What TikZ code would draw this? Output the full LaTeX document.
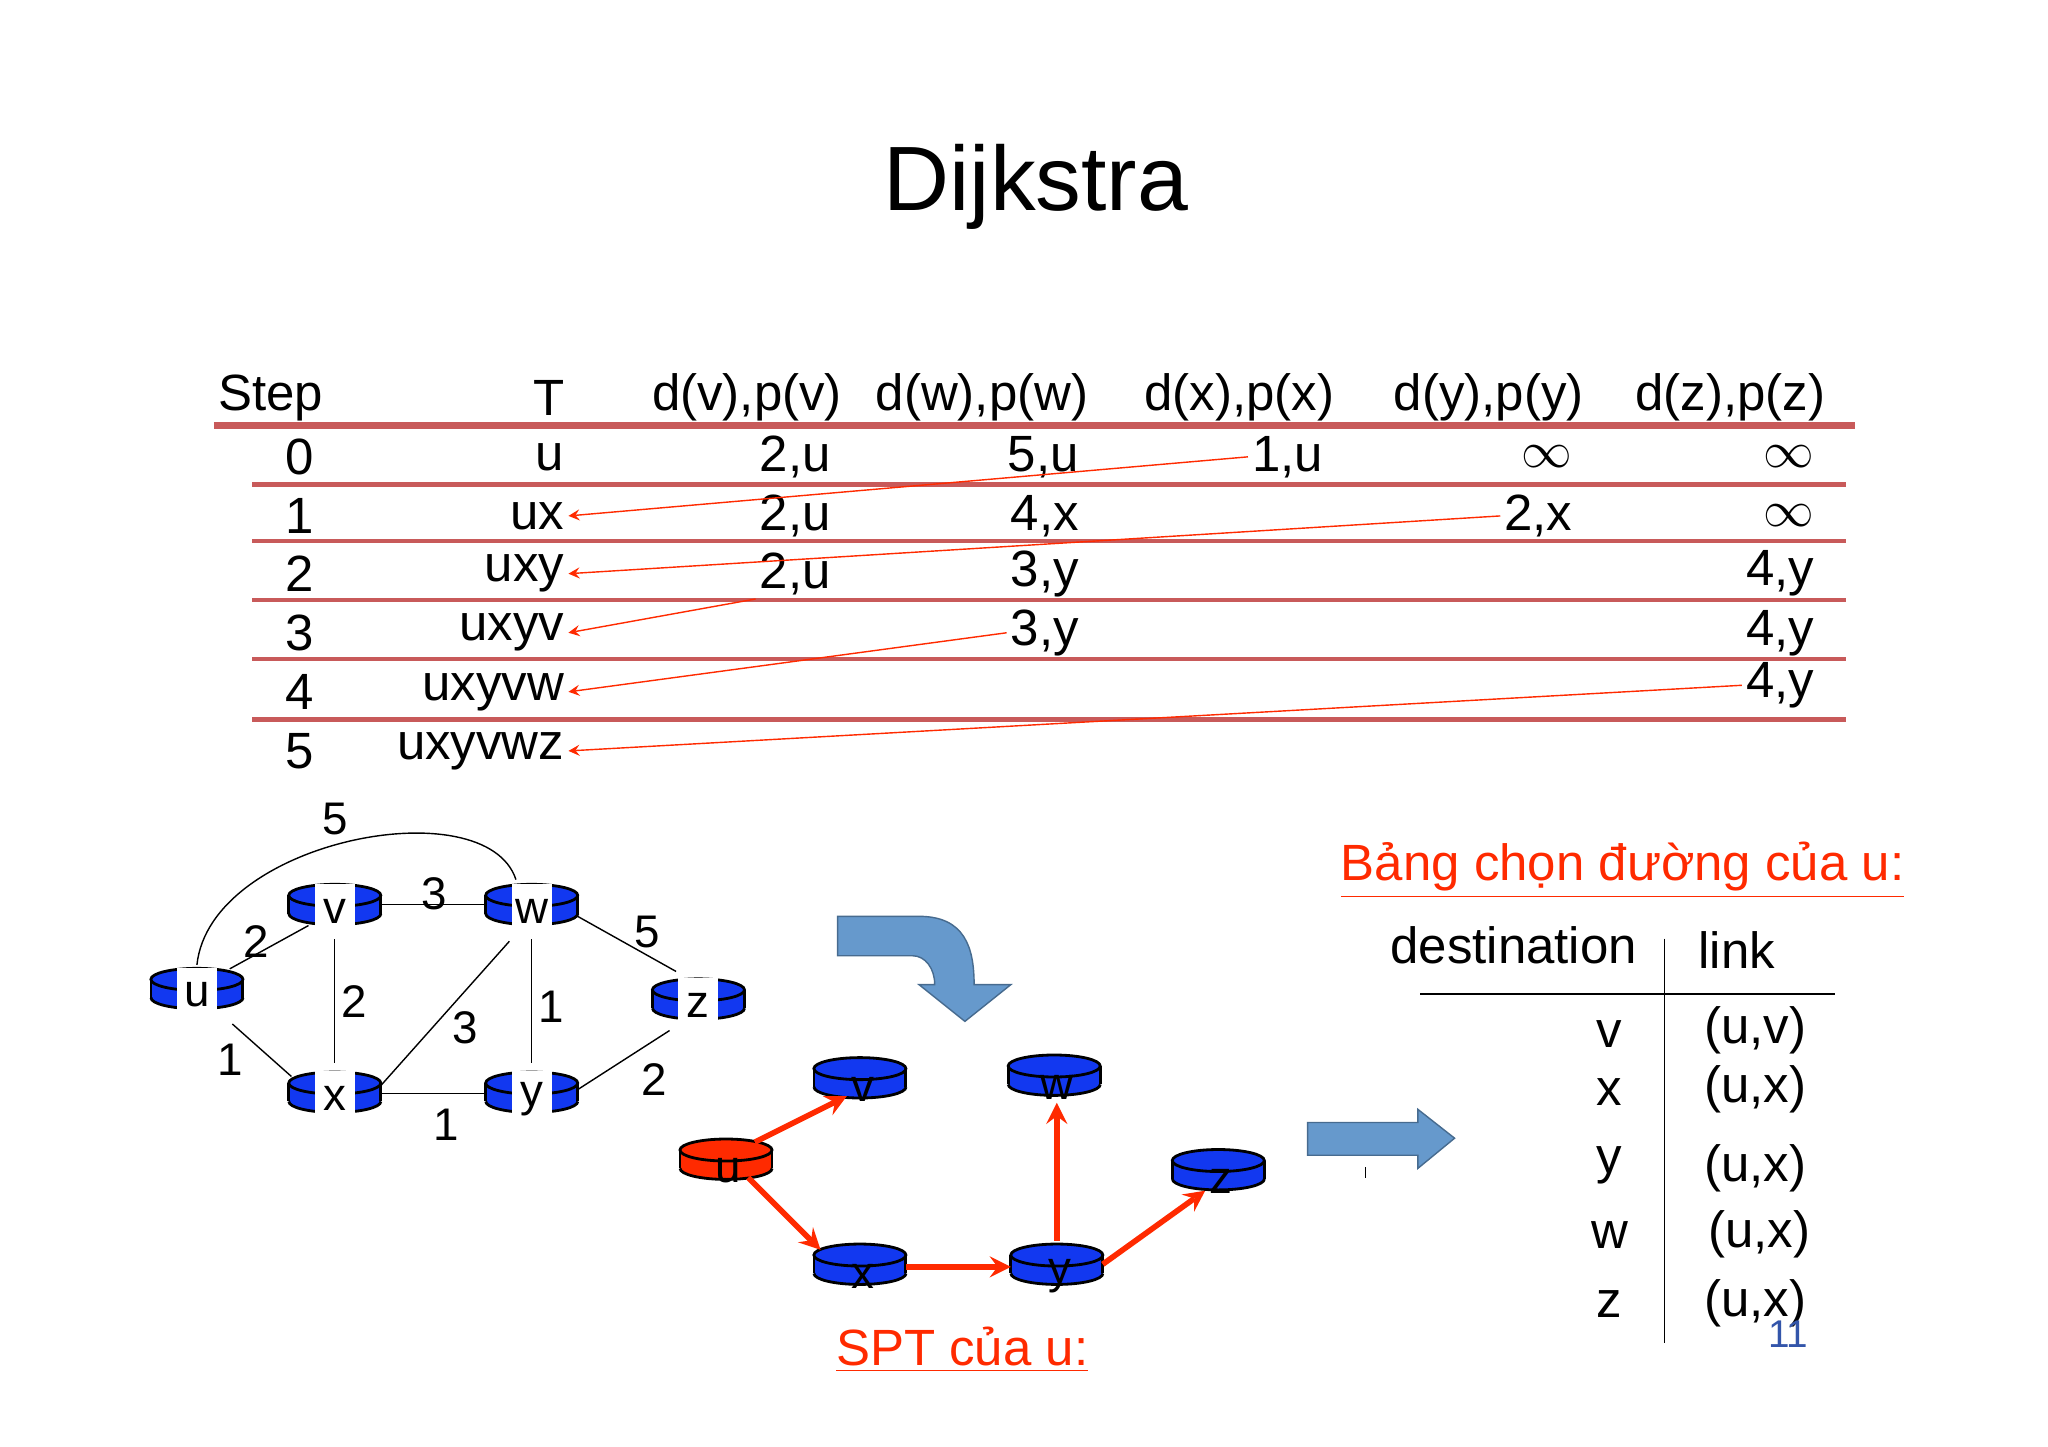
\documentclass[tikz,border=0pt]{standalone}
\usepackage{fontspec}
\setmainfont{Liberation Sans}
\usepackage{tikz}
\definecolor{rtblue}{HTML}{1238F0}
\definecolor{rtred}{HTML}{FF2A00}
\definecolor{rowline}{HTML}{C85A5A}
\definecolor{blockblue}{HTML}{6699CC}
\definecolor{pagenum}{HTML}{3355AA}
% cylinder router: #1 = position, #2 = fill colour
\newcommand{\router}[2]{
  \fill[#2] ($(#1)+(0,8)$) ellipse (0.46cm and 0.11cm);
  \fill[#2] ($(#1)+(-35,-6)$) rectangle ($(#1)+(35,8)$);
  \draw[thick] ($(#1)+(-35,-6)$) -- ($(#1)+(-35,8)$);
  \draw[thick] ($(#1)+(35,-6)$) -- ($(#1)+(35,8)$);
  \draw[thick] ($(#1)+(-35,8)$) arc (180:360:0.46cm and 0.11cm);
  \filldraw[fill=#2,thick] ($(#1)+(0,-6)$) ellipse (0.46cm and 0.11cm);
}
\usetikzlibrary{calc}
\tikzset{
  tab/.style={font=\fontsize{14.5}{17}\selectfont,inner sep=1pt},
  val/.style={tab,anchor=east},
  glab/.style={font=\fontsize{13}{15}\selectfont,inner sep=1pt},
  rlab/.style={glab,fill=white,minimum width=0.4cm,minimum height=0.55cm,inner sep=0pt},
  ptr/.style={rtred,->,>=stealth},
  spt/.style={rtred,line width=1.6pt,->,>=stealth},
  hline/.style={rowline,line width=1.2pt}
}
\begin{document}
\begin{tikzpicture}[x=0.013128cm,y=-0.013128cm]
  \useasboundingbox (0,0) rectangle (1560,1102);
  \node[font=\fontsize{26}{30}\selectfont] (title) at (789,142) {Dijkstra};

  % table head
  \node[tab,anchor=west] (hs) at (163,303) {Step};
  \node[val] (ht) at (433,303) {T};
  \node[tab] (hv) at (569,303) {d(v),p(v)};
  \node[tab] (hw) at (748,303) {d(w),p(w)};
  \node[tab] (hx) at (944,303) {d(x),p(x)};
  \node[tab] (hy) at (1134,303) {d(y),p(y)};
  \node[tab] (hz) at (1318,303) {d(z),p(z)};
  \draw[hline,line width=2pt] (163,324) -- (1413,324);
  \foreach \y in {369,412,457,502,548}
  {
    \draw[hline] (192,\y) -- (1406,\y);
  };

  % steps and sets
  \foreach \i/\t/\y in {0/u/348,1/ux/393,2/uxy/437,3/uxyv/482,4/uxyvw/527,5/uxyvwz/572}
  {
    \node[tab] (s\i) at (228,\y) {\i};
    \node[val] (t\i) at (433,\y) {\t};
  };

  % values
  \node[val] (v0) at (636,348) {2,u};
  \node[val] (w0) at (825,348) {5,u};
  \node[val] (x0) at (1011,348) {1,u};
  \node[val] (y0) at (1201,348) {$\infty$};
  \node[val] (z0) at (1385,348) {$\infty$};
  \node[val] (v1) at (636,393) {2,u};
  \node[val] (w1) at (825,393) {4,x};
  \node[val] (y1) at (1201,393) {2,x};
  \node[val] (z1) at (1385,393) {$\infty$};
  \node[val] (v2) at (636,437) {2,u};
  \node[val] (w2) at (825,437) {3,y};
  \node[val] (z2) at (1385,437) {4,y};
  \node[val] (w3) at (825,482) {3,y};
  \node[val] (z3) at (1385,482) {4,y};
  \node[val] (z4) at (1385,522) {4,y};

  \draw[ptr] (x0.west) -- (t1.east);
  \draw[ptr] (y1.west) -- (t2.east);
  \draw[ptr] (v2.south west) -- (t3.east);
  \draw[ptr] (w3.west) -- (t4.east);
  \draw[ptr] (z4.west) -- (t5.east);

  % network
  \coordinate (u) at (150,752);
  \coordinate (v) at (255,688);
  \coordinate (w) at (405,688);
  \coordinate (x) at (255,831);
  \coordinate (y) at (405,831);
  \coordinate (z) at (532,760);
  \draw (175,738) -- (235,705);
  \draw (290,689) -- (370,689);
  \draw (440,698) -- (515,740);
  \draw (255,706) -- (255,810);
  \draw (388,717) -- (290,827);
  \draw (405,706) -- (405,810);
  \draw (177,780) -- (222,820);
  \draw (290,833) -- (370,833);
  \draw (440,830) -- (510,785);
  \draw (150,735) .. controls (160,640) and (370,600) .. (393,670);
  \foreach \r in {u,v,w,x,y,z}
  {
    \router{\r}{rtblue}
    \node[rlab] (l\r) at ($(\r)+(0,6)$) {\r};
  };
  \foreach \c/\p in {5/{255,624},3/{331,681},5/{493,710},2/{195,717},2/{270,763},3/{354,783},1/{420,767},1/{175,807},2/{498,822},1/{340,857}}
  {
    \node[glab] at (\p) {\c};
  };

  % curved block arrow
  \filldraw[fill=blockblue,draw=blockblue!70!black] (638,698) -- (700,698)
    .. controls (735,698) and (742,722) .. (742,750) -- (770,750) -- (735,778)
    -- (700,750) -- (712,750) .. controls (712,738) and (705,728) .. (695,728)
    -- (638,728) -- cycle;

  % shortest path tree
  \coordinate (su) at (553,882);
  \coordinate (sv) at (655,820);
  \coordinate (sw) at (803,818);
  \coordinate (sx) at (655,962);
  \coordinate (sy) at (805,962);
  \coordinate (sz) at (928,890);
  \router{su}{rtred}
  \foreach \r in {sv,sw,sx,sy,sz}
  {
    \router{\r}{rtblue}
  };
  \foreach \r/\t in {su/u,sv/v,sw/w,sx/x,sy/y,sz/z}
  {
    \node[glab] (n\r) at ($(\r)+(2,10)$) {\t};
  };
  \draw[spt] (575,870) -- (645,835);
  \draw[spt] (570,897) -- (625,952);
  \draw[spt] (690,965) -- (770,965);
  \draw[spt] (805,945) -- (805,840);
  \draw[spt] (840,963) -- (918,907);
  \node[tab,rtred] (sptl) at (733,1028) {\underline{SPT của u:}};

  % straight block arrow
  \filldraw[fill=blockblue,draw=blockblue!70!black] (996,855) -- (1080,855) -- (1080,845)
    -- (1108,867) -- (1080,890) -- (1080,880) -- (996,880) -- cycle;
  \draw (1040,889) -- (1040,897);

  % routing table
  \node[tab,rtred] (rt) at (1236,663) {\underline{Bảng chọn đường của u:}};
  \node[tab] (dest) at (1153,720) {destination};
  \node[tab] (link) at (1323,724) {link};
  \draw (1268,715) -- (1268,1023);
  \draw (1082,757) -- (1398,757);
  \foreach \d/\y in {v/788,x/832,y/888,w/941,z/993}
  {
    \node[tab] (d\d) at (1226,\y) {\d};
  };
  \node[tab] (lv) at (1337,785) {(u,v)};
  \node[tab] (lx) at (1337,830) {(u,x)};
  \node[tab] (ly) at (1337,890) {(u,x)};
  \node[tab] (lw) at (1340,940) {(u,x)};
  \node[tab] (lz) at (1337,993) {(u,x)};
  \node[font=\fontsize{11}{13}\selectfont,pagenum] (pg) at (1362,1016) {11};
\end{tikzpicture}
\end{document}
